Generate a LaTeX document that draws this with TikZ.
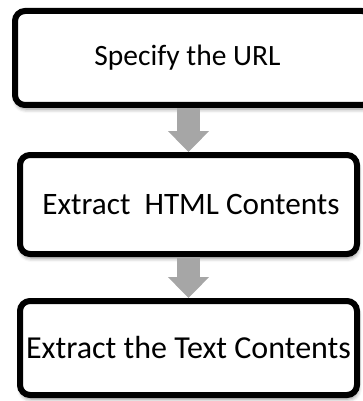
\documentclass[tikz,border=0pt]{standalone}
\usepackage{fontspec}
\setmainfont{Carlito}
\usetikzlibrary{arrows.meta,shadows.blur}
\definecolor{arrowgray}{HTML}{A6A6A6}
\tikzset{
  stepbox/.style={draw=black, line width=6pt, rounded corners=10pt, fill=white,
    inner sep=0pt,
    blur shadow={shadow xshift=1pt, shadow yshift=-4pt, shadow blur radius=4pt, shadow opacity=45}},
  flowarrow/.style={draw=arrowgray, line width=23pt, -{Triangle[length=21pt,width=40pt]}}
}
\begin{document}
\begin{tikzpicture}[x=1pt,y=-1pt]
\useasboundingbox (0,0) rectangle (363,401);
\clip (0,0) rectangle (363,401);
\node[stepbox, minimum width=357pt, minimum height=94pt, font=\fontsize{29.5}{34}\selectfont] (b1) at (193.5,58) {Specify the URL\hspace*{12pt}};
\node[stepbox, minimum width=337pt, minimum height=99pt, font=\fontsize{31.2}{36}\selectfont] (b2) at (188.5,204.5) {\hspace*{5pt}Extract~~HTML Contents};
\node[stepbox, minimum width=337pt, minimum height=94pt, font=\fontsize{32}{38}\selectfont] (b3) at (188.5,348) {Extract the Text Contents};
\draw[flowarrow] (b1.south -| b2.north) -- (b2.north);
\draw[flowarrow] (b2.south) -- (b3.north);
\end{tikzpicture}
\end{document}
